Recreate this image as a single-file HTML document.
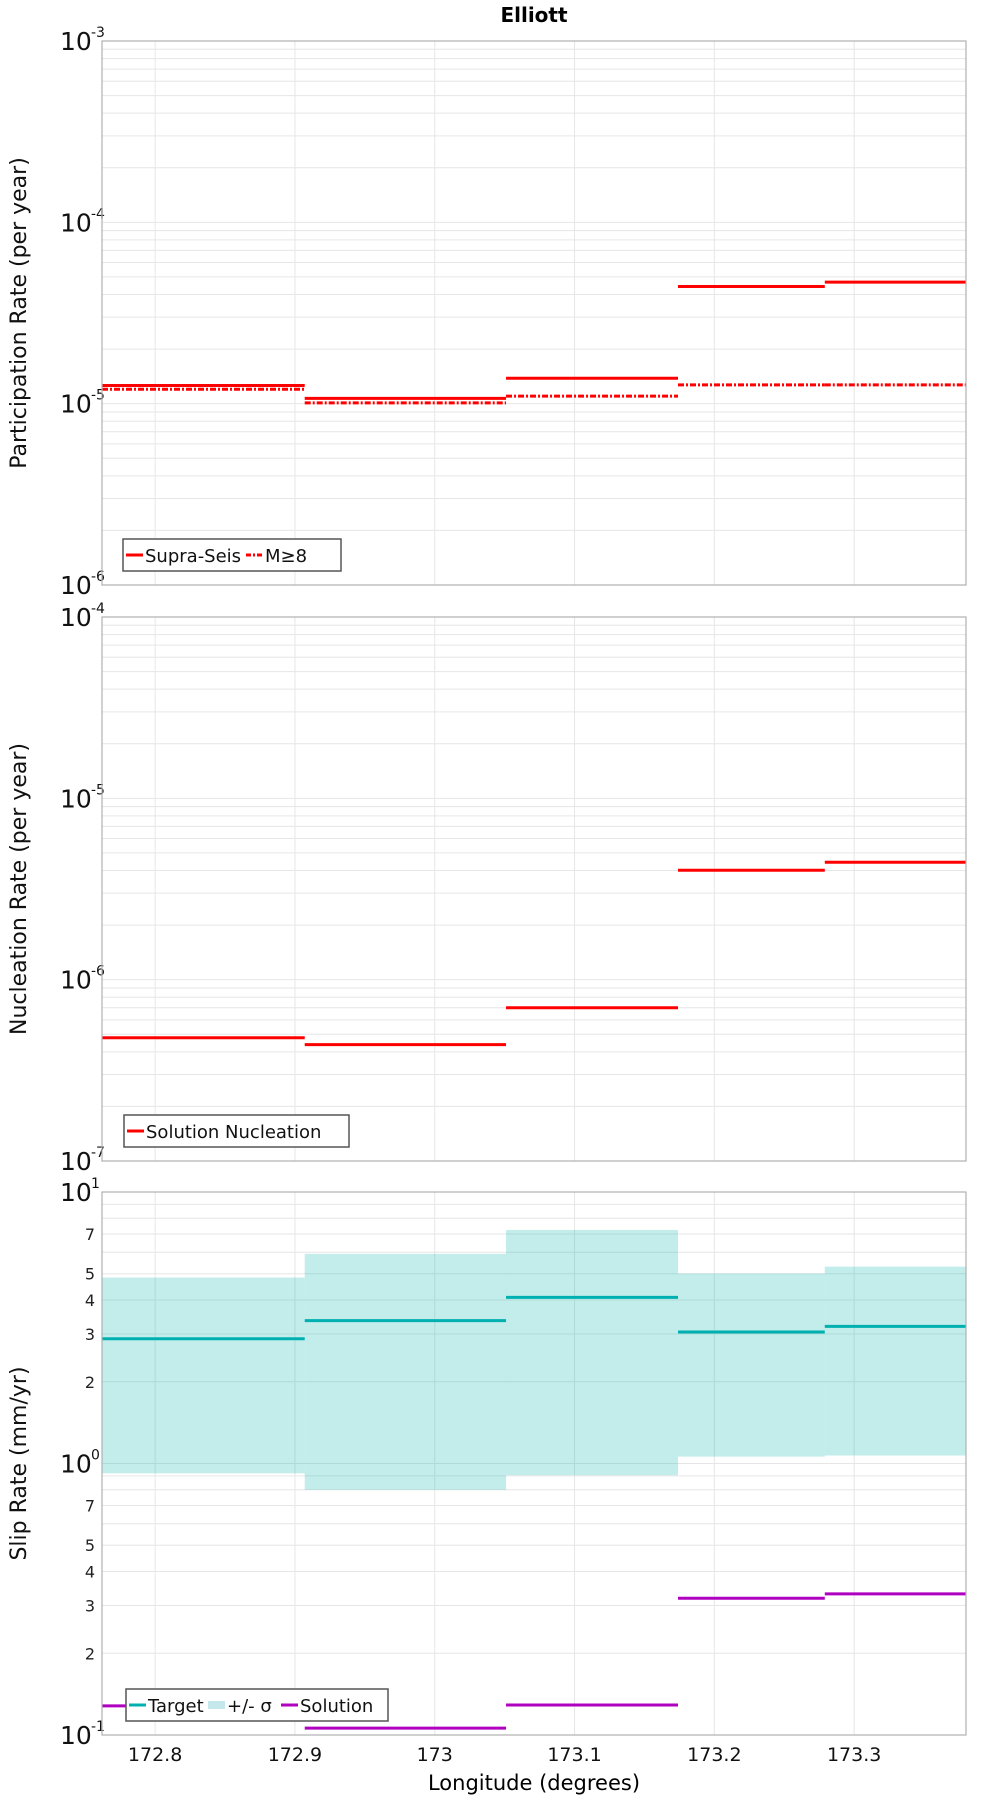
<!DOCTYPE html>
<html><head><meta charset="utf-8"><style>
body{margin:0;background:#fff}
svg{display:block;font-family:"DejaVu Sans","Liberation Sans",sans-serif}
</style></head><body>
<svg id="chart" width="1000" height="1800" viewBox="0 0 1000 1800" xmlns="http://www.w3.org/2000/svg">
<text x="534" y="22" text-anchor="middle" font-size="20" font-weight="bold">Elliott</text>
<text x="534" y="1790" text-anchor="middle" font-size="21">Longitude (degrees)</text>
</svg>
<script>
const xTicks = [172.8, 172.9, 173.0, 173.1, 173.2, 173.3];
const xTickLabels = ["172.8", "172.9", "173", "173.1", "173.2", "173.3"];
const binEdges = [172.762, 172.907, 173.051, 173.174, 173.279, 173.380];
const partSupra = [1.26e-5, 1.07e-5, 1.38e-5, 4.43e-5, 4.68e-5];
const partM8 = [1.2e-5, 1.01e-5, 1.1e-5, 1.27e-5, 1.27e-5];
const nucleation = [4.78e-7, 4.38e-7, 7.0e-7, 4.01e-6, 4.44e-6];
const slipTarget = [2.88, 3.36, 4.09, 3.05, 3.2];
const slipUpper = [4.84, 5.92, 7.25, 5.01, 5.31];
const slipLower = [0.92, 0.80, 0.905, 1.06, 1.07];
const slipSolution = [0.128, 0.106, 0.129, 0.319, 0.331];

const NS = "http://www.w3.org/2000/svg";
const svg = document.getElementById('chart');
const L = 102, R = 966;
const xMin = 172.762, xMax = 173.380;
function xs(v){ return L + (v - xMin) / (xMax - xMin) * (R - L); }
function mk(tag, attrs, parent){
  const e = document.createElementNS(NS, tag);
  for (const k in attrs) e.setAttribute(k, attrs[k]);
  (parent || svg).appendChild(e);
  return e;
}
function panel(name, top, bottom, eMin, eMax, title, minorLabels){
  const g = mk('g', {});
  
  
  const ys = v => bottom - (Math.log10(v) - eMin) / (eMax - eMin) * (bottom - top);
  for (let e = eMin; e < eMax; e++) {
    for (let m = 1; m <= 9; m++) {
      const y = ys(m * Math.pow(10, e));
      const gl = mk('line', {x1:L, x2:R, y1:y, y2:y, stroke:'#e6e6e6', 'stroke-width':1}, g);
      
      
      if (minorLabels && [2,3,4,5,7].includes(m)) {
        const t = mk('text', {x:95, y:y+6, 'text-anchor':'end', 'font-size':16, fill:'#222'}, g);
        t.textContent = String(m);
        
        
      }
    }
  }
  xTicks.forEach(v => {
    const gl = mk('line', {x1:xs(v), x2:xs(v), y1:top, y2:bottom, stroke:'#e6e6e6', 'stroke-width':1}, g);
    
    
  });
  for (let e = eMin; e <= eMax; e++) {
    const y = ys(Math.pow(10, e));
    const t = mk('text', {x:60, y:y+9, 'font-size':25, fill:'#111'}, g);
    t.textContent = '10';
    
    
    const s = mk('text', {x:91, y:y-4, 'font-size':14, fill:'#111'}, g);
    s.textContent = String(e);
    
    
  }
  const yt = mk('text', {transform:`translate(26,${(top+bottom)/2}) rotate(-90)`, 'text-anchor':'middle', 'font-size':22, fill:'#111'}, g);
  yt.textContent = title;
  
  
  return {g, ys};
}
function frame(g, top, bottom){
  const r = mk('rect', {x:L, y:top, width:R-L, height:bottom-top, fill:'none', stroke:'#b0b0b0', 'stroke-width':1.2}, g);
  
  
}
function steps(g, arr, ys, color, dash, name){
  arr.forEach((v, i) => {
    const a = {x1:xs(binEdges[i]), x2:xs(binEdges[i+1]), y1:ys(v), y2:ys(v), stroke:color, 'stroke-width':3};
    if (dash) a['stroke-dasharray'] = dash;
    const l = mk('line', a, g);
    
    
  });
}
function legend(g, x, y, w, items){
  const r = mk('rect', {x:x, y:y, width:w, height:32, fill:'#fff', stroke:'#555', 'stroke-width':1.5}, g);
  
  
  let cx = x + 3;
  items.forEach(it => {
    const a = {x1:cx, x2:cx+17, y1:y+16, y2:y+16, stroke:it.color, 'stroke-width':it.sw||3};
    if (it.dash) a['stroke-dasharray'] = it.dash;
    const l = mk('line', a, g);
    
    
    const t = mk('text', {x:cx+19, y:y+23, 'font-size':18, fill:'#111'}, g);
    t.textContent = it.label;
    
    
    cx += 19 + it.w;
  });
}
let p = panel('participation', 41, 585, -6, -3, 'Participation Rate (per year)', false);
steps(p.g, partSupra, p.ys, '#ff0000', null, 'supra-seis');
steps(p.g, partM8, p.ys, '#ff0000', '6,2,2,2', 'm8');
frame(p.g, 41, 585);
legend(p.g, 123, 539, 218, [{label:'Supra-Seis', color:'#ff0000', w:101},{label:'M≥8', color:'#ff0000', dash:'5,2,2,2', w:60}]);
p = panel('nucleation', 617, 1161, -7, -4, 'Nucleation Rate (per year)', false);
steps(p.g, nucleation, p.ys, '#ff0000', null, 'nucleation');
frame(p.g, 617, 1161);
legend(p.g, 124, 1115, 225, [{label:'Solution Nucleation', color:'#ff0000', w:190}]);
p = panel('slip-rate', 1192, 1735, -1, 1, 'Slip Rate (mm/yr)', true);
slipUpper.forEach((v, i) => {
  const y1 = p.ys(v), y2 = p.ys(slipLower[i]);
  const r = mk('rect', {x:xs(binEdges[i]), y:y1, width:xs(binEdges[i+1])-xs(binEdges[i]), height:y2-y1, fill:'rgba(0,180,170,0.24)'}, p.g);
  
  
});
steps(p.g, slipTarget, p.ys, '#00b0b0', null, 'target');
steps(p.g, slipSolution, p.ys, '#b000c0', null, 'solution');
frame(p.g, 1192, 1735);
legend(p.g, 126, 1689, 262, [{label:'Target', color:'#00b0b0', w:60},{label:'+/- σ', color:'#c4e8ec', sw:8, w:54},{label:'Solution', color:'#b000c0', w:80}]);
xTicks.forEach((v, i) => {
  const t = mk('text', {x:xs(v), y:1761, 'text-anchor':'middle', 'font-size':19, fill:'#111'});
  t.textContent = xTickLabels[i];
  
  
});
</script>
</body></html>
